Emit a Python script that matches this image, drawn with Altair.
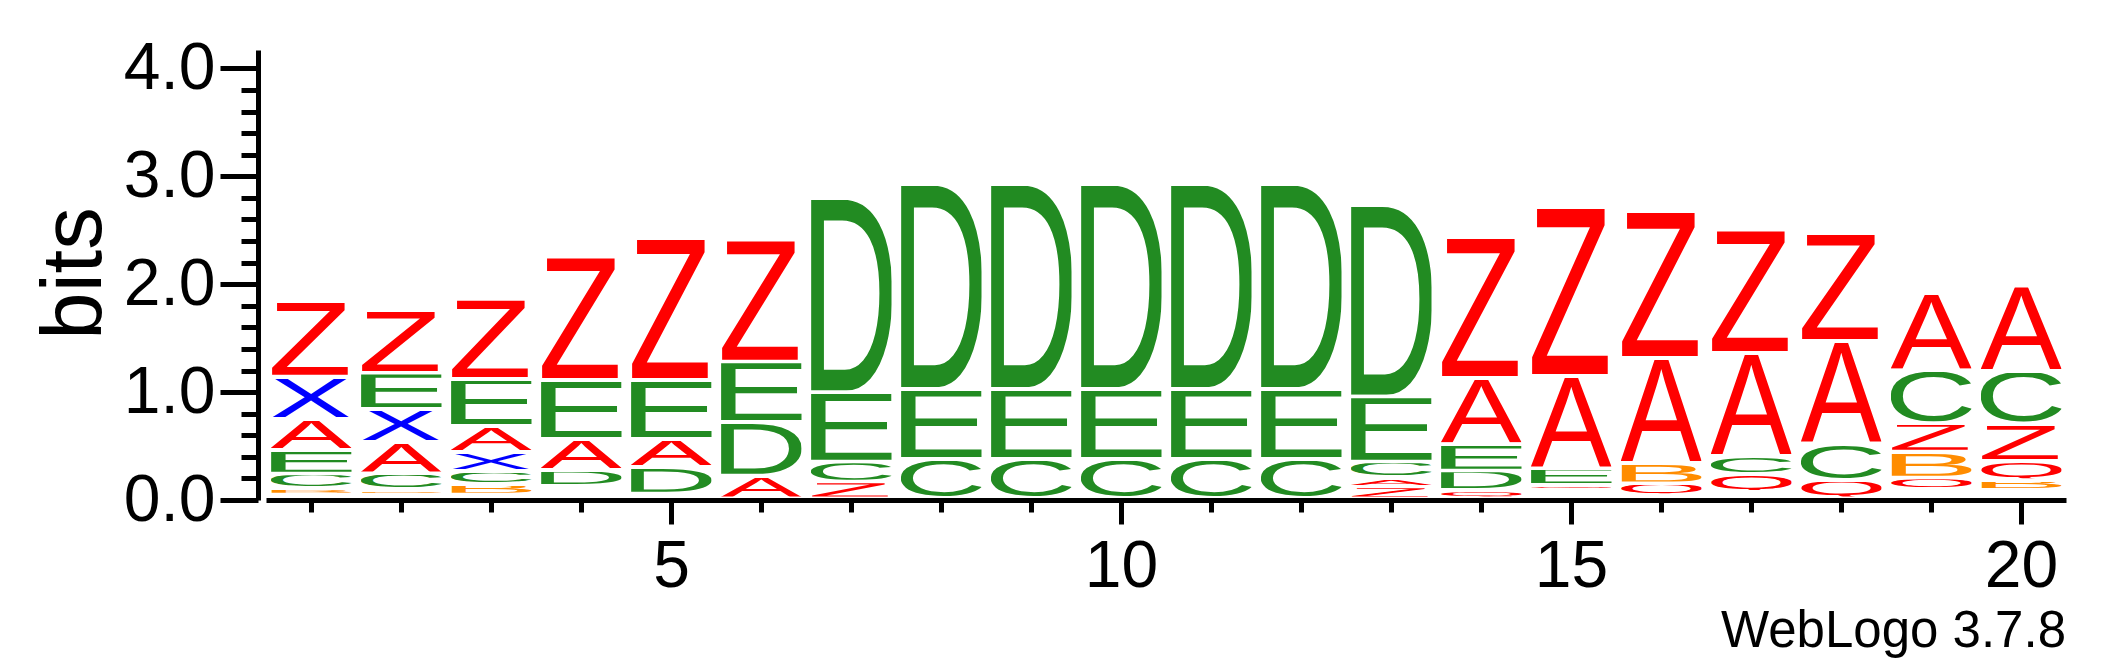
import base64
import pandas as pd
import altair as alt

# ---- data: letter stacks (bottom -> top) and their heights in bits ----
POSITIONS = list(range(1, 21))
STACK_LETTERS = [
    "QBCEAXZ", "QBCAXEZ", "QBCXAEZ", "QXBCDAEZ", "BQDAEZ",
    "ADEZ", "ZCED", "CED", "CED", "CED",
    "CED", "CED", "ZACED", "QDEAZ", "BXZQEAZ",
    "EQBAZ", "BEQCAZ", "QCAZ", "EDXQBZCA", "XDEBQZCA",
]
STACK_BITS = [
    [0.036, 0.057, 0.136, 0.219, 0.288, 0.393, 0.701],
    [0.036, 0.047, 0.149, 0.288, 0.309, 0.334, 0.584],
    [0.036, 0.097, 0.120, 0.174, 0.241, 0.436, 0.745],
    [0.030, 0.030, 0.028, 0.028, 0.147, 0.287, 0.548, 1.140],
    [0.025, 0.020, 0.243, 0.262, 0.548, 1.314],
    [0.211, 0.494, 0.563, 1.128],
    [0.155, 0.185, 0.643, 1.800],
    [0.362, 0.652, 1.899],
    [0.362, 0.652, 1.899],
    [0.362, 0.652, 1.899],
    [0.362, 0.652, 1.899],
    [0.362, 0.652, 1.899],
    [0.108, 0.087, 0.145, 0.603, 1.772],
    [0.077, 0.180, 0.247, 0.609, 1.305],
    [0.030, 0.025, 0.022, 0.046, 0.155, 0.857, 1.562],
    [0.030, 0.109, 0.186, 0.974, 1.361],
    [0.031, 0.030, 0.162, 0.170, 0.952, 1.144],
    [0.170, 0.340, 0.949, 0.999],
    [0.030, 0.030, 0.026, 0.106, 0.241, 0.263, 0.489, 0.717],
    [0.025, 0.026, 0.025, 0.094, 0.176, 0.343, 0.492, 0.789],
]
LETTER_COLORS = {
    "A": "#FF0000", "Z": "#FF0000", "Q": "#FF0000",
    "X": "#0000FF",
    "C": "#228B22", "D": "#228B22", "E": "#228B22",
    "B": "#FF8C00",
}
Y_TICKS = [round(0.2 * i, 1) for i in range(21)]
X_TICKS = POSITIONS

FONT = "Liberation Sans, Arial, Helvetica, sans-serif"
# glyph ink boxes (font units, 2048/em): xmin, ymin, xmax, ymax
GLYPH_BOX = {
    "A": (0, 0, 1366, 1409),
    "B": (150, 0, 1257, 1409),
    "C": (100, -25, 1393, 1434),
    "D": (158, 0, 1370, 1409),
    "E": (162, 0, 1246, 1409),
    "Q": (84, -110, 1500, 1434),
    "X": (9, 0, 1358, 1409),
    "Z": (42, 0, 1250, 1409),
}
GAP = 0.032   # blank space under each glyph inside its slot (bits)
HALF_W = 0.45  # half stack width (positions)


def glyph_url(letter):
    x0, y0, x1, y1 = GLYPH_BOX[letter]
    svg = (
        '<svg xmlns="http://www.w3.org/2000/svg" '
        f'viewBox="{x0} {-y1} {x1 - x0} {y1 - y0}" preserveAspectRatio="none" '
        f'width="{x1 - x0}" height="{y1 - y0}">'
        f'<text x="0" y="0" font-family="{FONT}" font-size="2048" '
        f'fill="{LETTER_COLORS[letter]}">{letter}</text></svg>'
    )
    return "data:image/svg+xml;base64," + base64.b64encode(svg.encode()).decode()


rows = []
for pos, letters, bits in zip(POSITIONS, STACK_LETTERS, STACK_BITS):
    base = 0.0
    for letter, h in zip(letters, bits):
        top = base + h
        low = base + min(GAP, h)
        if top - low > 0.008:
            rows.append({"pos": pos, "letter": letter, "x0": pos - HALF_W,
                         "x1": pos + HALF_W, "y0": low, "y1": top,
                         "url": glyph_url(letter)})
        base = top
df = pd.DataFrame(rows)

x_axis = alt.Axis(
    values=X_TICKS,
    labelExpr="datum.value % 5 == 0 ? format(datum.value, 'd') : ''",
    tickSize={"condition": {"test": "datum.value % 5 == 0", "value": 24}, "value": 12},
    tickWidth=5, tickColor="black", domainWidth=5, domainColor="black",
    labelFont=FONT, labelFontSize=66, labelColor="black", labelPadding=10,
    labelFlush=False, labelOverlap=False, grid=False, title="",
)
y_axis = alt.Axis(
    values=Y_TICKS,
    labelExpr="abs(datum.value - round(datum.value)) < 0.001 ? format(datum.value, '.1f') : ''",
    tickSize={"condition": {"test": "abs(datum.value - round(datum.value)) < 0.001", "value": 38},
              "value": 17},
    tickWidth=5, tickColor="black", domainWidth=5, domainColor="black",
    labelFont=FONT, labelFontSize=66, labelColor="black", labelPadding=5,
    labelFlush=False, labelOverlap=False, grid=False, offset=8,
    title="bits", titleFont=FONT, titleFontSize=85, titleFontWeight="normal",
    titleColor="black", titleAngle=270, titleBaseline="alphabetic", titleAlign="center",
    titleX=-158, titleY=223,
)

chart = alt.Chart(df).mark_image(aspect=False).encode(
    x=alt.X("x0:Q", scale=alt.Scale(domain=[0.5, 20.5], nice=False, zero=False), axis=x_axis),
    x2="x1:Q",
    y=alt.Y("y1:Q", scale=alt.Scale(domain=[0, 4.17], nice=False, zero=True), axis=y_axis),
    y2="y0:Q",
    url="url:N",
).properties(
    width=1800, height=450,
    background="white",
    autosize=alt.AutoSizeParams(type="none"),
    padding={"left": 258, "top": 42, "right": 43, "bottom": 159},
    title=alt.TitleParams(text="WebLogo 3.7.8", orient="bottom", anchor="end",
                          font=FONT, fontSize=51, fontWeight="normal", color="black",
                          offset=8),
).configure_view(stroke=None)

chart.save("out.html", embed_options={"renderer": "svg", "actions": False})
